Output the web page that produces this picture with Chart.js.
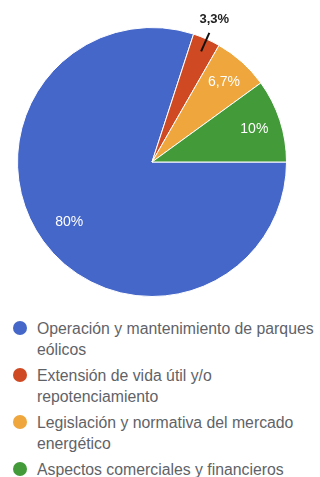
<!DOCTYPE html>
<html>
<head>
<meta charset="utf-8">
<script src="https://cdn.jsdelivr.net/npm/chart.js@4.4.1/dist/chart.umd.min.js"></script>
<style>
  body { margin: 0; background: #fff; width: 320px; height: 477px; overflow: hidden; font-family: "Liberation Sans", Arial, sans-serif; }
  #wrap { position: relative; width: 320px; height: 310px; }
  #legend { position: absolute; left: 0; top: 318px; width: 320px; }
  .item { position: relative; padding-left: 37px; margin-bottom: 5px; color: #5f6368; font-size: 15.8px; line-height: 21px; white-space: normal; }
  .dot { position: absolute; left: 13px; top: 3px; width: 14px; height: 14px; border-radius: 50%; }
</style>
</head>
<body>
<div id="wrap"><canvas id="myChart" width="320" height="310"></canvas></div>
<div id="legend"></div>
<script>
// categories and values (percent)
const labels = [
  'Operación y mantenimiento de parques eólicos',
  'Extensión de vida útil y/o repotenciamiento',
  'Legislación y normativa del mercado energético',
  'Aspectos comerciales y financieros'
];
const values = [80, 3.3, 6.7, 10];
const valueLabels = ['80%', '3,3%', '6,7%', '10%'];
const colors = ['#4567c9', '#cf4a22', '#eea63d', '#439a38'];

// draws the % text on each slice (small one goes outside with a leader line)
const sliceLabels = {
  id: 'sliceLabels',
  afterDatasetsDraw(chart) {
    const ctx = chart.ctx;
    const meta = chart.getDatasetMeta(0);
    meta.data.forEach((arc, i) => {
      const mid = (arc.startAngle + arc.endAngle) / 2;
      const cx = arc.x, cy = arc.y, r = arc.outerRadius;
      ctx.save();
      ctx.textAlign = 'center';
      ctx.textBaseline = 'middle';
      if (values[i] < 5) {
        const x1 = cx + Math.cos(mid) * (r * 0.9);
        const y1 = cy + Math.sin(mid) * (r * 0.9);
        const x2 = cx + Math.cos(mid) * (r * 1.05);
        const y2 = cy + Math.sin(mid) * (r * 1.05);
        ctx.strokeStyle = '#111';
        ctx.lineWidth = 2;
        ctx.beginPath();
        ctx.moveTo(x1, y1);
        ctx.lineTo(x2, y2);
        ctx.stroke();
        ctx.font = 'bold 13px "Liberation Sans", Arial, sans-serif';
        ctx.fillStyle = '#222';
        ctx.fillText(valueLabels[i], x2 + 5, y2 - 14);
      } else {
        const k = i === 0 ? 0.76 : 0.8;
        ctx.font = '14px "Liberation Sans", Arial, sans-serif';
        ctx.fillStyle = '#ffffff';
        ctx.fillText(valueLabels[i], cx + Math.cos(mid) * r * k, cy + Math.sin(mid) * r * k);
      }
      ctx.restore();
    });
  }
};

const ctx = document.getElementById('myChart').getContext('2d');
new Chart(ctx, {
  type: 'pie',
  data: {
    labels: labels,
    datasets: [{
      data: values,
      backgroundColor: colors,
      borderColor: '#ffffff',
      borderWidth: 1
    }]
  },
  options: {
    responsive: false,
    animation: false,
    rotation: 90,
    layout: { padding: { left: 17, right: 33, top: 27, bottom: 13 } },
    plugins: { legend: { display: false }, tooltip: { enabled: false } }
  },
  plugins: [sliceLabels]
});

// legend built from the same arrays
const legend = document.getElementById('legend');
labels.forEach((l, i) => {
  const div = document.createElement('div');
  div.className = 'item';
  div.innerHTML = '<span class="dot" style="background:' + colors[i] + '"></span>' + l;
  legend.appendChild(div);
});
</script>
</body>
</html>
